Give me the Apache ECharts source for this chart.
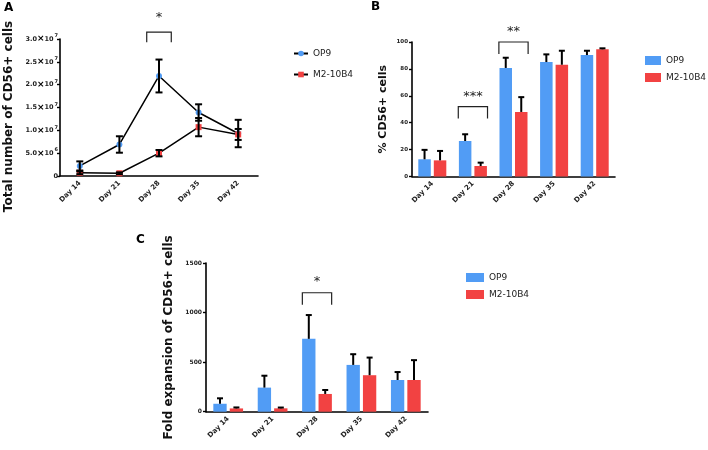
<!DOCTYPE html>
<html><head><meta charset="utf-8">
<script src="https://cdn.jsdelivr.net/npm/echarts@6/dist/echarts.min.js"></script>
<style>html,body{margin:0;padding:0;background:#fff}#c{width:708px;height:450px}</style>
</head><body><div id="c"></div>
<script>
// ---------- data ----------
const days = ['Day 14', 'Day 21', 'Day 28', 'Day 35', 'Day 42'];
const seriesNames = ['OP9', 'M2-10B4'];
// Panel A: total number of CD56+ cells (mean, SEM)
const totalOP9 = [2.2e6, 6.9e6, 2.19e7, 1.39e7, 9.3e6];
const totalOP9Err = [1.0e6, 1.8e6, 3.6e6, 1.8e6, 3.0e6];
const totalM2 = [0.7e6, 0.6e6, 5.0e6, 1.07e7, 9.1e6];
const totalM2Err = [0.3e6, 0.2e6, 0.7e6, 2.0e6, 1.2e6];
// Panel B: % CD56+ cells
const pctOP9 = [12.8, 26.4, 80.7, 85.1, 90.3];
const pctOP9Err = [7.0, 5.0, 7.6, 5.7, 3.2];
const pctM2 = [12.0, 7.8, 48.0, 83.1, 94.6];
const pctM2Err = [7.0, 2.5, 11.0, 10.4, 0.7];
// Panel C: fold expansion of CD56+ cells
const foldOP9 = [80, 243, 735, 472, 320];
const foldOP9Err = [55, 120, 240, 108, 80];
const foldM2 = [33, 34, 179, 368, 320];
const foldM2Err = [10, 8, 40, 178, 200];
// significance annotations: [category, bracket height (data units), label]
const sigA = [['Day 28', 3.15e7, '*']];
const sigB = [['Day 21', 52, '***'], ['Day 28', 100, '**']];
const sigC = [['Day 28', 1200, '*']];

// ---------- styles ----------
const BLUE = '#519cf5', RED = '#f24242';
const FONT = 'DejaVu Sans';
const CAT_GAP_B = 0.31, BAR_GAP_B = 0.24;
const CAT_GAP_C = 0.33, BAR_GAP_C = 0.23;

function supFmt(v) {
  if (v === 0) return '{n|0}';
  const e = Math.floor(Math.log10(v) + 1e-9);
  const m = (v / Math.pow(10, e)).toFixed(1);
  return '{n|' + m + '}{x|×}{n|10}{s|' + e + '}';
}

function axisX(gi) {
  return {
    type: 'category', gridIndex: gi, data: days, boundaryGap: true,
    axisLine: {lineStyle: {color: '#000', width: 1.6}},
    axisTick: {alignWithLabel: true, length: 3, lineStyle: {color: '#000', width: 1.4}},
    axisLabel: {rotate: 45, interval: 0, fontFamily: FONT, fontWeight: 'bold', fontSize: 7, color: '#222', margin: 6},
    splitLine: {show: false}
  };
}
function axisY(gi, min, max, interval, name, nameGap, nameSize, labelSize, extra) {
  return Object.assign({
    type: 'value', gridIndex: gi, min: min, max: max, interval: interval,
    name: name, nameLocation: 'middle', nameGap: nameGap,
    nameTextStyle: {fontFamily: FONT, fontWeight: 'bold', fontSize: nameSize, color: '#111'},
    axisLine: {show: true, lineStyle: {color: '#000', width: 1.6}},
    axisTick: {show: true, length: 3, lineStyle: {color: '#000', width: 1.4}},
    axisLabel: {fontFamily: FONT, fontWeight: 'bold', fontSize: labelSize, color: '#222', margin: 4,
      formatter: v => String(v)},
    splitLine: {show: false}
  }, extra || {});
}

// error bars for bar panels (upward only)
function barErr(gi, vals, errs, idx, catGap, barGap) {
  return {
    type: 'custom', xAxisIndex: gi, yAxisIndex: gi, z: 10, silent: true,
    data: vals.map((v, i) => [i, v, v + errs[i]]),
    renderItem(params, api) {
      const band = api.size([1, 0])[0];
      const w = band * (1 - catGap) / (2 + barGap);
      const off = (idx === 0 ? -1 : 1) * w * (1 + barGap) / 2;
      const c = api.coord([api.value(0), api.value(1)]);
      const t = api.coord([api.value(0), api.value(2)]);
      const x = c[0] + off;
      const st = {stroke: '#000', lineWidth: 2};
      return {type: 'group', children: [
        {type: 'line', shape: {x1: x, y1: c[1], x2: x, y2: t[1]}, style: st},
        {type: 'line', shape: {x1: x - 3, y1: t[1], x2: x + 3, y2: t[1]}, style: st}
      ]};
    }
  };
}
// error bars for line panel (both directions)
function lineErr(gi, vals, errs) {
  return {
    type: 'custom', xAxisIndex: gi, yAxisIndex: gi, z: 10, silent: true,
    data: vals.map((v, i) => [i, v - errs[i], v + errs[i]]),
    renderItem(params, api) {
      const lo = api.coord([api.value(0), api.value(1)]);
      const hi = api.coord([api.value(0), api.value(2)]);
      const x = lo[0];
      const st = {stroke: '#000', lineWidth: 2};
      return {type: 'group', children: [
        {type: 'line', shape: {x1: x, y1: lo[1], x2: x, y2: hi[1]}, style: st},
        {type: 'line', shape: {x1: x - 3.5, y1: hi[1], x2: x + 3.5, y2: hi[1]}, style: st},
        {type: 'line', shape: {x1: x - 3.5, y1: lo[1], x2: x + 3.5, y2: lo[1]}, style: st}
      ]};
    }
  };
}
// significance brackets
function sigSeries(gi, sig, halfFrac, leg, starGap) {
  return {
    type: 'custom', xAxisIndex: gi, yAxisIndex: gi, z: 12, silent: true, clip: false,
    data: sig.map(s => [days.indexOf(s[0]), s[1]]),
    renderItem(params, api) {
      const band = api.size([1, 0])[0];
      const p = api.coord([api.value(0), api.value(1)]);
      const hw = band * halfFrac;
      const label = sig[params.dataIndex][2];
      const st = {stroke: '#222', lineWidth: 1.2, fill: null};
      return {type: 'group', children: [
        {type: 'polyline', shape: {points: [[p[0] - hw, p[1] + leg], [p[0] - hw, p[1]], [p[0] + hw, p[1]], [p[0] + hw, p[1] + leg]]}, style: st},
        {type: 'text', x: p[0], y: p[1] - starGap, style: {text: label, fontFamily: FONT, fontSize: 13, fill: '#222', align: 'center', verticalAlign: 'middle'}}
      ]};
    }
  };
}

const legendText = {fontFamily: FONT, fontSize: 9, color: '#222'};

const option = {
  animation: false,
  backgroundColor: '#fff',
  grid: [
    {left: 60, top: 39, width: 198, height: 137},
    {left: 412, top: 42, width: 203, height: 134.5},
    {left: 206, top: 263, width: 222, height: 148.7}
  ],
  xAxis: [axisX(0), axisX(1), axisX(2)],
  yAxis: [
    axisY(0, 0, 3e7, 5e6, 'Total number of CD56+ cells', 45, 12, 6.5, {
      nameTextStyle: {fontFamily: FONT, fontWeight: 'bold', fontSize: 12, color: '#111', padding: [0, 18, 0, 0]},
      axisLabel: {fontFamily: FONT, fontWeight: 'bold', fontSize: 6.5, color: '#222', margin: 2,
        formatter: supFmt,
        rich: {
          n: {fontFamily: FONT, fontWeight: 'bold', fontSize: 6.5, color: '#222'},
          x: {fontFamily: FONT, fontWeight: 'bold', fontSize: 9, color: '#000'},
          s: {fontFamily: FONT, fontWeight: 'bold', fontSize: 5, color: '#222', padding: [0, 0, 6, 1]}
        }}
    }),
    axisY(1, 0, 100, 20, '% CD56+ cells', 23, 11, 5.5),
    axisY(2, 0, 1500, 500, 'Fold expansion of CD56+ cells', 31, 12, 6)
  ],
  legend: [
    {left: 288, top: 44, orient: 'vertical', itemGap: 12, itemWidth: 14, itemHeight: 7,
     data: ['OP9|A', 'M2-10B4|A'], formatter: n => n.split('|')[0], textStyle: legendText},
    {left: 640, top: 51, orient: 'vertical', itemGap: 8, itemWidth: 16, itemHeight: 9,
     data: ['OP9|B', 'M2-10B4|B'], formatter: n => n.split('|')[0], textStyle: legendText, icon: 'rect'},
    {left: 461, top: 268, orient: 'vertical', itemGap: 8, itemWidth: 18, itemHeight: 9,
     data: ['OP9|C', 'M2-10B4|C'], formatter: n => n.split('|')[0], textStyle: legendText, icon: 'rect'}
  ],
  graphic: [
    {type: 'text', left: 4, top: 2, style: {text: 'A', fontFamily: FONT, fontWeight: 'bold', fontSize: 12, fill: '#000'}},
    {type: 'text', left: 371, top: 1, style: {text: 'B', fontFamily: FONT, fontWeight: 'bold', fontSize: 12, fill: '#000'}},
    {type: 'text', left: 136, top: 234, style: {text: 'C', fontFamily: FONT, fontWeight: 'bold', fontSize: 12, fill: '#000'}}
  ],
  series: [
    // Panel A
    {name: 'OP9|A', type: 'line', xAxisIndex: 0, yAxisIndex: 0, data: totalOP9, symbol: 'circle', symbolSize: 6,
     lineStyle: {color: '#000', width: 1.5}, itemStyle: {color: BLUE}, z: 5},
    {name: 'M2-10B4|A', type: 'line', xAxisIndex: 0, yAxisIndex: 0, data: totalM2, symbol: 'rect', symbolSize: 6,
     lineStyle: {color: '#000', width: 1.5}, itemStyle: {color: RED}, z: 5},
    lineErr(0, totalOP9, totalOP9Err),
    lineErr(0, totalM2, totalM2Err),
    sigSeries(0, sigA, 0.31, 10, 15),
    // Panel B
    {name: 'OP9|B', type: 'bar', xAxisIndex: 1, yAxisIndex: 1, data: pctOP9, itemStyle: {color: BLUE},
     barCategoryGap: (CAT_GAP_B * 100) + '%', barGap: (BAR_GAP_B * 100) + '%'},
    {name: 'M2-10B4|B', type: 'bar', xAxisIndex: 1, yAxisIndex: 1, data: pctM2, itemStyle: {color: RED},
     barCategoryGap: (CAT_GAP_B * 100) + '%', barGap: (BAR_GAP_B * 100) + '%'},
    barErr(1, pctOP9, pctOP9Err, 0, CAT_GAP_B, BAR_GAP_B),
    barErr(1, pctM2, pctM2Err, 1, CAT_GAP_B, BAR_GAP_B),
    sigSeries(1, sigB, 0.36, 12, 10),
    // Panel C
    {name: 'OP9|C', type: 'bar', xAxisIndex: 2, yAxisIndex: 2, data: foldOP9, itemStyle: {color: BLUE},
     barCategoryGap: (CAT_GAP_C * 100) + '%', barGap: (BAR_GAP_C * 100) + '%'},
    {name: 'M2-10B4|C', type: 'bar', xAxisIndex: 2, yAxisIndex: 2, data: foldM2, itemStyle: {color: RED},
     barCategoryGap: (CAT_GAP_C * 100) + '%', barGap: (BAR_GAP_C * 100) + '%'},
    barErr(2, foldOP9, foldOP9Err, 0, CAT_GAP_C, BAR_GAP_C),
    barErr(2, foldM2, foldM2Err, 1, CAT_GAP_C, BAR_GAP_C),
    sigSeries(2, sigC, 0.33, 12, 11)
  ]
};
const chart = echarts.init(document.getElementById('c'), null, {renderer: 'canvas'});
chart.setOption(option);
</script>
</body></html>
